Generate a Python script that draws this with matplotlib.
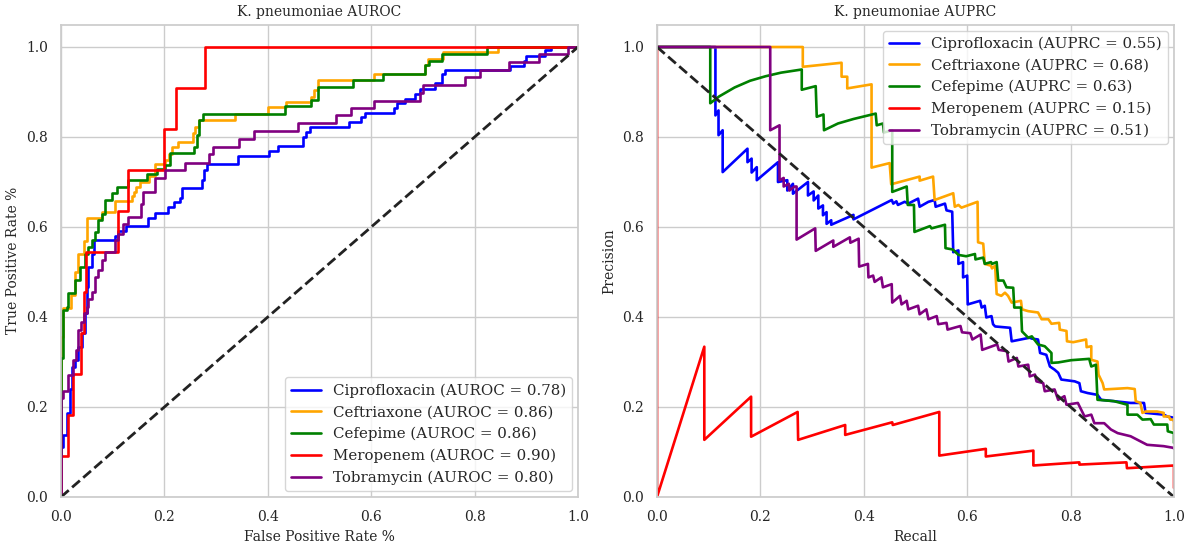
import numpy as np
import matplotlib
matplotlib.use("Agg")
import matplotlib.pyplot as plt
import seaborn as sns

drugs = ["Ciprofloxacin", "Ceftriaxone", "Cefepime", "Meropenem", "Tobramycin"]
colors = ["blue", "orange", "green", "red", "purple"]
auroc = [0.78, 0.86, 0.86, 0.90, 0.80]
auprc = [0.55, 0.68, 0.63, 0.15, 0.51]

# ROC curve corners (fpr, tpr)
cipro_fpr = [0, 0, 0.0045, 0.0045, 0.011, 0.011, 0.0174, 0.0174, 0.0207, 0.0207, 0.027, 0.027, 0.0336, 0.0336,
             0.04, 0.04, 0.0465, 0.0465, 0.05, 0.05, 0.053, 0.053, 0.059, 0.059, 0.0646, 0.0646, 0.105, 0.105,
             0.111, 0.111, 0.125, 0.125, 0.169, 0.169, 0.181, 0.181, 0.207, 0.207, 0.219, 0.219, 0.230, 0.230,
             0.235, 0.235, 0.273, 0.273, 0.277, 0.277, 0.282, 0.282, 0.342, 0.342, 0.402, 0.402, 0.42, 0.42,
             0.468, 0.468, 0.474, 0.474, 0.482, 0.482, 0.558, 0.558, 0.58, 0.58, 0.588, 0.588, 0.644, 0.644,
             0.649, 0.649, 0.666, 0.666, 0.685, 0.685, 0.695, 0.695, 0.723, 0.723, 0.736, 0.736, 0.742, 0.742,
             0.868, 0.868, 0.895, 0.895, 0.900, 0.900, 0.936, 0.936, 0.947, 0.947, 1.0]
cipro_tpr = [0, 0.112, 0.112, 0.138, 0.138, 0.186, 0.186, 0.239, 0.239, 0.289, 0.289, 0.304, 0.304, 0.334,
             0.334, 0.364, 0.364, 0.408, 0.408, 0.467, 0.467, 0.511, 0.511, 0.541, 0.541, 0.571, 0.571, 0.581,
             0.581, 0.592, 0.592, 0.602, 0.602, 0.621, 0.621, 0.632, 0.632, 0.644, 0.644, 0.655, 0.655, 0.664,
             0.664, 0.686, 0.686, 0.704, 0.704, 0.727, 0.727, 0.739, 0.739, 0.758, 0.758, 0.769, 0.769, 0.779,
             0.779, 0.80, 0.80, 0.811, 0.811, 0.822, 0.822, 0.833, 0.833, 0.844, 0.844, 0.854, 0.854, 0.865,
             0.865, 0.876, 0.876, 0.885, 0.885, 0.896, 0.896, 0.907, 0.907, 0.919, 0.919, 0.939, 0.939, 0.948,
             0.948, 0.958, 0.958, 0.970, 0.970, 0.981, 0.981, 0.993, 0.993, 1.0, 1.0]

ceftr_fpr = [0, 0, 0.003, 0.003, 0.02, 0.02, 0.027, 0.027, 0.033, 0.033, 0.045, 0.045, 0.05, 0.05, 0.079, 0.079,
             0.105, 0.105, 0.137, 0.137, 0.142, 0.142, 0.145, 0.145, 0.153, 0.153, 0.158, 0.158, 0.170, 0.170,
             0.182, 0.182, 0.2016, 0.2016, 0.208, 0.208, 0.214, 0.214, 0.226, 0.226, 0.256, 0.256, 0.26, 0.26,
             0.266, 0.266, 0.336, 0.336, 0.40, 0.40, 0.4355, 0.4355, 0.484, 0.484, 0.49, 0.49, 0.497, 0.497,
             0.605, 0.605, 0.704, 0.704, 0.71, 0.71, 0.739, 0.739, 0.846, 0.846, 1.0]
ceftr_tpr = [0, 0.356, 0.356, 0.42, 0.42, 0.45, 0.45, 0.50, 0.50, 0.54, 0.54, 0.57, 0.57, 0.621, 0.621, 0.634,
             0.634, 0.658, 0.658, 0.669, 0.669, 0.678, 0.678, 0.69, 0.69, 0.70, 0.70, 0.70, 0.70, 0.713,
             0.713, 0.741, 0.741, 0.75, 0.75, 0.762, 0.762, 0.778, 0.778, 0.79, 0.79, 0.808, 0.808, 0.823,
             0.823, 0.838, 0.838, 0.851, 0.851, 0.867, 0.867, 0.878, 0.878, 0.889, 0.889, 0.904, 0.904, 0.926,
             0.926, 0.939, 0.939, 0.96, 0.96, 0.974, 0.974, 0.989, 0.989, 1.0, 1.0]

cefep_fpr = [0, 0, 0.0045, 0.0045, 0.011, 0.011, 0.0142, 0.0142, 0.027, 0.027, 0.0368, 0.0368, 0.0465, 0.0465,
             0.053, 0.053, 0.0594, 0.0594, 0.066, 0.066, 0.0711, 0.0711, 0.079, 0.079, 0.085, 0.085, 0.098, 0.098,
             0.108, 0.108, 0.13, 0.13, 0.166, 0.166, 0.185, 0.185, 0.2016, 0.2016, 0.211, 0.211, 0.258, 0.258,
             0.263, 0.263, 0.267, 0.267, 0.275, 0.275, 0.433, 0.433, 0.484, 0.484, 0.497, 0.497, 0.565, 0.565,
             0.623, 0.623, 0.704, 0.704, 0.711, 0.711, 0.736, 0.736, 0.824, 0.824, 1.0]
cefep_tpr = [0, 0.308, 0.308, 0.415, 0.415, 0.423, 0.423, 0.453, 0.453, 0.482, 0.482, 0.511, 0.511, 0.541,
             0.541, 0.556, 0.556, 0.571, 0.571, 0.589, 0.589, 0.615, 0.615, 0.63, 0.63, 0.66, 0.66, 0.675,
             0.675, 0.688, 0.688, 0.704, 0.704, 0.717, 0.717, 0.73, 0.73, 0.737, 0.737, 0.765, 0.765, 0.778,
             0.778, 0.804, 0.804, 0.837, 0.837, 0.851, 0.851, 0.870, 0.870, 0.883, 0.883, 0.911, 0.911, 0.927,
             0.927, 0.941, 0.941, 0.959, 0.959, 0.97, 0.97, 0.985, 0.985, 1.0, 1.0]

merop_fpr = [0, 0, 0.013, 0.013, 0.024, 0.024, 0.038, 0.038, 0.045, 0.045, 0.048, 0.048, 0.111, 0.111,
             0.130, 0.130, 0.2, 0.2, 0.222, 0.222, 0.278, 0.278, 1.0]
merop_tpr = [0, 0.091, 0.091, 0.182, 0.182, 0.273, 0.273, 0.364, 0.364, 0.455, 0.455, 0.545, 0.545, 0.636,
             0.636, 0.727, 0.727, 0.818, 0.818, 0.909, 0.909, 1.0, 1.0]

tobra_fpr = [0, 0, 0.0045, 0.0045, 0.0129, 0.0129, 0.0239, 0.0239, 0.0284, 0.0284, 0.0323, 0.0323, 0.0388,
             0.0388, 0.0452, 0.0452, 0.0497, 0.0497, 0.053, 0.053, 0.0594, 0.0594, 0.066, 0.066, 0.072, 0.072,
             0.079, 0.079, 0.085, 0.085, 0.092, 0.092, 0.104, 0.104, 0.111, 0.111, 0.12, 0.12, 0.13, 0.13,
             0.155, 0.155, 0.158, 0.158, 0.182, 0.182, 0.2016, 0.2016, 0.24, 0.24, 0.286, 0.286, 0.294, 0.294,
             0.345, 0.345, 0.374, 0.374, 0.458, 0.458, 0.531, 0.531, 0.56, 0.56, 0.605, 0.605, 0.695, 0.695,
             0.70, 0.70, 0.781, 0.781, 0.81, 0.81, 0.867, 0.867, 0.925, 0.925, 0.981, 0.981, 1.0]
tobra_tpr = [0, 0.22, 0.22, 0.236, 0.236, 0.271, 0.271, 0.304, 0.304, 0.327, 0.327, 0.371, 0.371, 0.39, 0.39,
             0.408, 0.408, 0.423, 0.423, 0.441, 0.441, 0.456, 0.456, 0.49, 0.49, 0.504, 0.504, 0.526, 0.526,
             0.545, 0.545, 0.545, 0.545, 0.571, 0.571, 0.585, 0.585, 0.607, 0.607, 0.622, 0.622, 0.652, 0.652,
             0.678, 0.678, 0.708, 0.708, 0.727, 0.727, 0.743, 0.743, 0.763, 0.763, 0.778, 0.778, 0.796, 0.796,
             0.813, 0.813, 0.831, 0.831, 0.85, 0.85, 0.865, 0.865, 0.881, 0.881, 0.898, 0.898, 0.915, 0.915,
             0.933, 0.933, 0.948, 0.948, 0.967, 0.967, 0.984, 0.984, 1.0, 1.0]

# PR curve vertices (recall, precision)
cipro_rec = [0, 0.113, 0.113, 0.119, 0.119, 0.127, 0.127, 0.175, 0.175, 0.183, 0.183, 0.193, 0.193, 0.234,
             0.234, 0.252, 0.252, 0.263, 0.263, 0.292, 0.292, 0.303, 0.303, 0.312, 0.312, 0.321, 0.321, 0.328,
             0.328, 0.337, 0.337, 0.380, 0.380, 0.454, 0.457, 0.463, 0.466, 0.479, 0.486, 0.505, 0.508, 0.525,
             0.537, 0.539, 0.557, 0.56, 0.571, 0.573, 0.583, 0.583, 0.592, 0.592, 0.600, 0.601, 0.625, 0.628,
             0.634, 0.637, 0.647, 0.650, 0.654, 0.683, 0.686, 0.721, 0.725, 0.737, 0.741, 0.753, 0.760, 0.769,
             0.776, 0.782, 0.808, 0.817, 0.820, 0.833, 0.852, 0.859, 0.916, 0.942, 0.945, 0.980, 0.987, 1.0, 1.0]
cipro_prec = [1, 1, 0.848, 0.859, 0.804, 0.815, 0.722, 0.774, 0.744, 0.752, 0.721, 0.733, 0.704, 0.744,
              0.700, 0.704, 0.681, 0.696, 0.674, 0.700, 0.670, 0.679, 0.659, 0.670, 0.641, 0.648, 0.626, 0.633,
              0.607, 0.615, 0.605, 0.627, 0.617, 0.660, 0.652, 0.657, 0.649, 0.656, 0.652, 0.663, 0.645, 0.656,
              0.660, 0.645, 0.652, 0.637, 0.634, 0.544, 0.548, 0.518, 0.522, 0.488, 0.492, 0.428, 0.436, 0.421,
              0.425, 0.399, 0.402, 0.384, 0.379, 0.376, 0.346, 0.354, 0.352, 0.350, 0.320, 0.316, 0.290, 0.283,
              0.276, 0.261, 0.257, 0.253, 0.235, 0.231, 0.227, 0.216, 0.209, 0.209, 0.187, 0.183, 0.179, 0.176,
              0.168]

ceftr_rec = [0, 0.282, 0.282, 0.357, 0.357, 0.368, 0.368, 0.415, 0.415, 0.450, 0.453, 0.508, 0.508, 0.534,
             0.537, 0.573, 0.576, 0.583, 0.589, 0.620, 0.621, 0.631, 0.634, 0.646, 0.648, 0.654, 0.657, 0.666,
             0.673, 0.679, 0.686, 0.704, 0.706, 0.718, 0.737, 0.744, 0.757, 0.763, 0.778, 0.779, 0.792, 0.793,
             0.805, 0.830, 0.831, 0.840, 0.840, 0.852, 0.854, 0.862, 0.865, 0.910, 0.924, 0.926, 0.935, 0.939,
             0.945, 0.967, 0.980, 0.980, 0.990, 0.993, 1.0, 1.0]
ceftr_prec = [1, 1, 0.956, 0.965, 0.934, 0.934, 0.908, 0.917, 0.732, 0.742, 0.695, 0.712, 0.703, 0.712,
              0.660, 0.675, 0.645, 0.649, 0.643, 0.656, 0.566, 0.563, 0.518, 0.514, 0.508, 0.514, 0.451, 0.447,
              0.454, 0.447, 0.432, 0.436, 0.417, 0.413, 0.410, 0.395, 0.395, 0.385, 0.387, 0.372, 0.369, 0.346,
              0.344, 0.350, 0.333, 0.335, 0.305, 0.301, 0.272, 0.253, 0.239, 0.242, 0.240, 0.213, 0.209, 0.187,
              0.190, 0.190, 0.187, 0.179, 0.179, 0.172, 0.172, 0.150]

cefep_rec = [0, 0.103, 0.103, 0.12, 0.15, 0.18, 0.21, 0.24, 0.28, 0.28, 0.307, 0.309, 0.322, 0.323, 0.35,
             0.38, 0.423, 0.425, 0.437, 0.439, 0.455, 0.455, 0.483, 0.485, 0.497, 0.498, 0.528, 0.531, 0.557,
             0.558, 0.572, 0.583, 0.598, 0.615, 0.616, 0.631, 0.634, 0.646, 0.648, 0.657, 0.660, 0.670, 0.676,
             0.689, 0.691, 0.704, 0.706, 0.718, 0.725, 0.737, 0.750, 0.763, 0.763, 0.776, 0.801, 0.836, 0.840,
             0.849, 0.852, 0.884, 0.910, 0.910, 0.929, 0.939, 0.955, 0.961, 0.987, 0.988, 1.0, 1.0]
cefep_prec = [1, 1, 0.875, 0.89, 0.91, 0.925, 0.935, 0.943, 0.95, 0.905, 0.913, 0.845, 0.85, 0.815, 0.83,
              0.84, 0.852, 0.826, 0.83, 0.81, 0.815, 0.678, 0.690, 0.649, 0.649, 0.589, 0.602, 0.597, 0.605,
              0.553, 0.55, 0.538, 0.535, 0.54, 0.528, 0.532, 0.518, 0.522, 0.518, 0.522, 0.481, 0.481, 0.466,
              0.465, 0.421, 0.421, 0.368, 0.354, 0.357, 0.339, 0.335, 0.320, 0.298, 0.299, 0.304, 0.307, 0.290,
              0.294, 0.216, 0.213, 0.205, 0.183, 0.183, 0.172, 0.173, 0.161, 0.161, 0.146, 0.142, 0.120]

merop_rec = [0, 0, 0.0915, 0.0915, 0.182, 0.182, 0.272, 0.273, 0.364, 0.364, 0.455, 0.456, 0.546, 0.546, 0.636,
             0.636, 0.728, 0.728, 0.817, 0.817, 0.908, 0.909, 1.0, 1.0]
merop_prec = [1, 0, 0.334, 0.127, 0.223, 0.134, 0.189, 0.127, 0.160, 0.138, 0.166, 0.160, 0.189, 0.092, 0.107,
              0.090, 0.103, 0.070, 0.077, 0.072, 0.077, 0.064, 0.070, 0.020]

tobra_rec = [0, 0.219, 0.219, 0.237, 0.237, 0.245, 0.245, 0.255, 0.256, 0.266, 0.270, 0.270, 0.306, 0.307,
             0.341, 0.341, 0.373, 0.374, 0.390, 0.391, 0.408, 0.409, 0.418, 0.421, 0.434, 0.437, 0.454, 0.455,
             0.470, 0.473, 0.483, 0.486, 0.505, 0.508, 0.521, 0.525, 0.541, 0.544, 0.560, 0.562, 0.587, 0.590,
             0.606, 0.610, 0.626, 0.629, 0.658, 0.661, 0.677, 0.680, 0.696, 0.699, 0.718, 0.721, 0.731, 0.734,
             0.747, 0.750, 0.769, 0.776, 0.788, 0.792, 0.814, 0.827, 0.840, 0.846, 0.865, 0.878, 0.891, 0.916,
             0.948, 0.980, 1.0, 1.0]
tobra_prec = [1, 1, 0.815, 0.826, 0.704, 0.709, 0.690, 0.696, 0.681, 0.690, 0.690, 0.572, 0.597, 0.547,
              0.570, 0.556, 0.577, 0.565, 0.574, 0.512, 0.518, 0.488, 0.492, 0.478, 0.488, 0.466, 0.473, 0.432,
              0.447, 0.428, 0.436, 0.417, 0.425, 0.406, 0.417, 0.395, 0.402, 0.384, 0.387, 0.372, 0.380, 0.366,
              0.364, 0.350, 0.361, 0.327, 0.339, 0.327, 0.324, 0.301, 0.309, 0.290, 0.294, 0.268, 0.272, 0.257,
              0.253, 0.235, 0.239, 0.216, 0.224, 0.205, 0.209, 0.179, 0.183, 0.164, 0.164, 0.150, 0.142, 0.135,
              0.116, 0.113, 0.109, 0.107]

roc = [(cipro_fpr, cipro_tpr), (ceftr_fpr, ceftr_tpr), (cefep_fpr, cefep_tpr),
       (merop_fpr, merop_tpr), (tobra_fpr, tobra_tpr)]
prc = [(cipro_rec, cipro_prec), (ceftr_rec, ceftr_prec), (cefep_rec, cefep_prec),
       (merop_rec, merop_prec), (tobra_rec, tobra_prec)]

sns.set_theme(style="whitegrid")
plt.rcParams['font.family'] = ['DejaVu Serif']

fig = plt.figure(figsize=(11.91, 5.43), dpi=100)
ax1 = fig.add_axes([61 / 1191, 46 / 543, 517 / 1191, 472.5 / 543])
ax2 = fig.add_axes([657 / 1191, 46 / 543, 517 / 1191, 472.5 / 543])

for (x, y), name, c, a in zip(roc, drugs, colors, auroc):
    ax1.plot(x, y, color=c, lw=1.9, label=f"{name} (AUROC = {a:.2f})")
ax1.plot([0, 1], [0, 1], '--', color='#222222', lw=2)
ax1.set_xlim([0.0, 1.0])
ax1.set_ylim([0.0, 1.05])
ax1.set_xlabel("False Positive Rate %", fontsize=10)
ax1.set_ylabel("True Positive Rate %", fontsize=10)
ax1.set_title("K. pneumoniae AUROC", fontsize=10)
ax1.legend(loc="lower right", fontsize=10.8, borderaxespad=0.4)

for (x, y), name, c, a in zip(prc, drugs, colors, auprc):
    ax2.plot(x, y, color=c, lw=1.9, label=f"{name} (AUPRC = {a:.2f})")
ax2.plot([0, 1], [1, 0], '--', color='#222222', lw=2)
ax2.set_xlim([0.0, 1.0])
ax2.set_ylim([0.0, 1.05])
ax2.set_xlabel("Recall", fontsize=10)
ax2.set_ylabel("Precision", fontsize=10)
ax2.set_title("K. pneumoniae AUPRC", fontsize=10)
ax2.legend(loc="upper right", fontsize=10.8, borderaxespad=0.4)

for ax in (ax1, ax2):
    ax.tick_params(labelsize=10)

fig.savefig("out.png", dpi=100)
